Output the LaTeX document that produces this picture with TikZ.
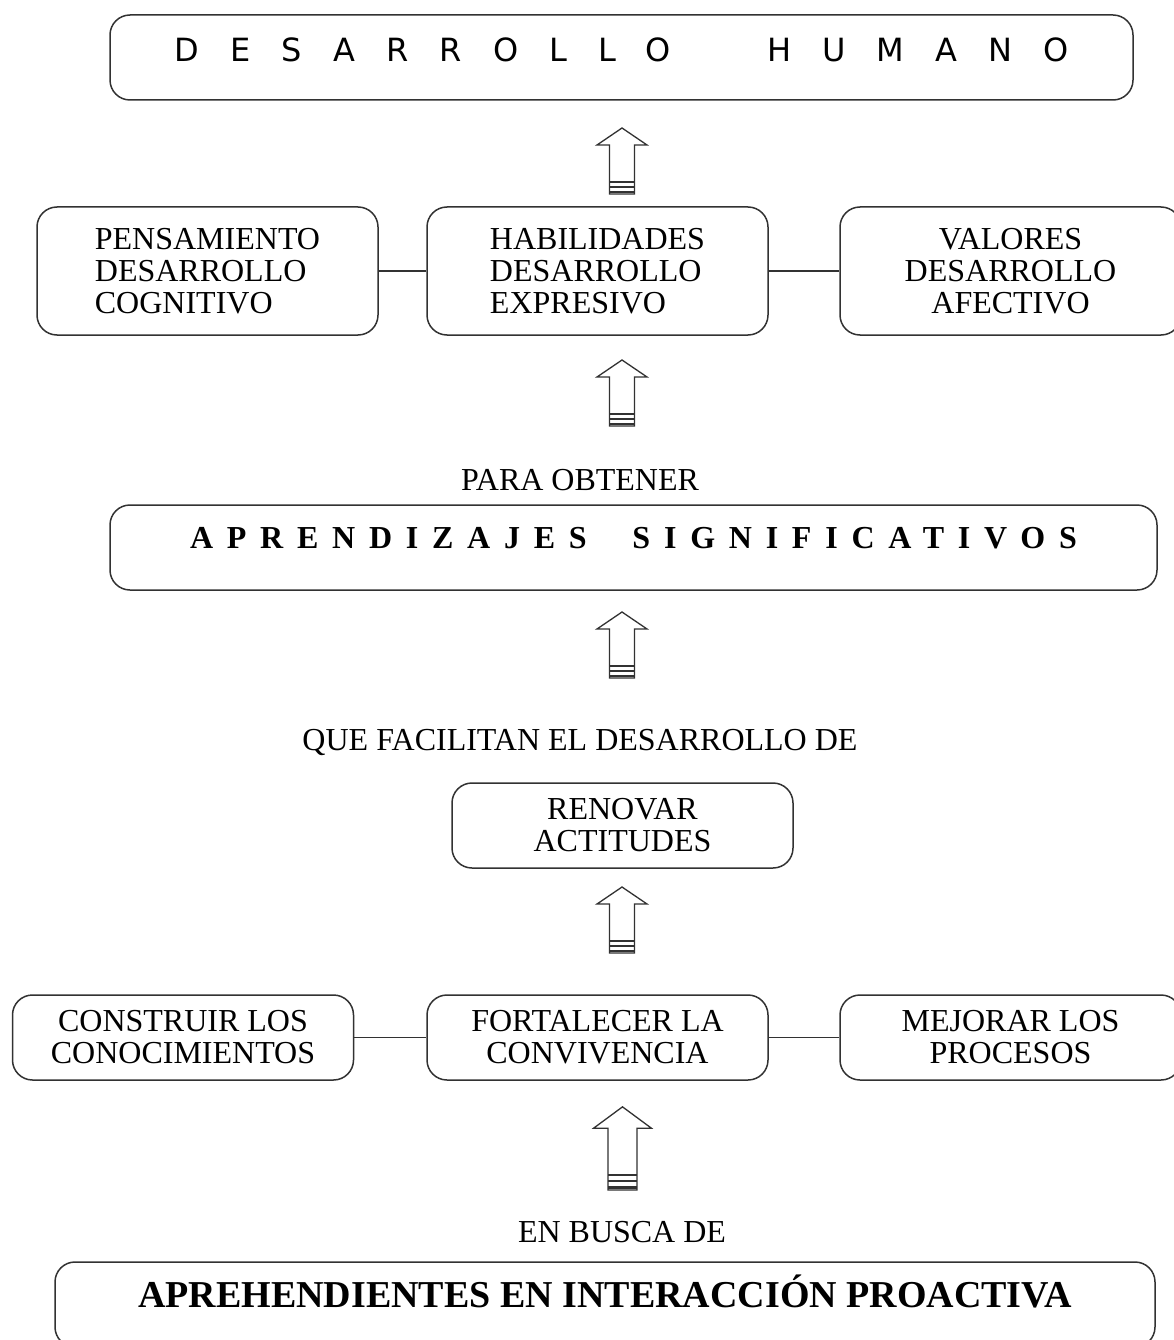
\documentclass[tikz,border=0pt]{standalone}
\usepackage{fontspec}
\setmainfont{Liberation Serif}
\newfontfamily\verdana{DejaVu Sans}
\usepackage{tikz}
\definecolor{linegray}{RGB}{50,50,50}

% hollow block arrow with stripes at its foot
\tikzset{
  uparrow/.pic={
    \draw[linegray, line width=1.3pt, fill=white] (-12.5,0) -- (-12.5,-49) -- (-25,-49)
      -- (0,-66) -- (25,-49) -- (12.5,-49) -- (12.5,0) -- cycle;
    \draw[linegray, line width=1.5pt] (-12.5,-12) -- (12.5,-12);
    \draw[linegray, line width=2.2pt] (-12.5,-7) -- (12.5,-7);
    \draw[linegray, line width=2.8pt] (-12.5,-2) -- (12.5,-2);
  }
}

\begin{document}
\begin{tikzpicture}[x=1pt, y=-1pt,
    box/.style={draw=linegray, line width=1.5pt, rounded corners=20pt,
      minimum width=341pt, minimum height=128pt, inner sep=0pt,
      font=\fontsize{32}{32}\selectfont},
    banner/.style={box, minimum height=85pt, text height=21pt, text depth=19pt},
    caption/.style={inner sep=0pt, font=\fontsize{32}{32}\selectfont},
    conn/.style={linegray, line width=1.5pt}]
      \fill[white] (0,0) rectangle (1173,1340);
      \useasboundingbox (0,0) rectangle (1173,1340);

      % top of the scheme
      \node[banner, minimum width=1023pt, text height=23pt, text depth=15pt,
            font=\verdana\fontsize{32}{32}\selectfont\addfontfeature{LetterSpace=97}]
            (humano) at (621.5,57.5) {DESARROLLO\hspace{96pt}HUMANO};
      \pic at (622,194) {uparrow};

      % three dimensions
      \node[box, align=left] (pensam) at (207.5,271)
            {PENSAMIENTO\\DESARROLLO\\COGNITIVO};
      \node[box, align=left] (habil) at (597.5,271)
            {HABILIDADES\\DESARROLLO\\EXPRESIVO};
      \node[box, align=center] (valores) at (1010.5,271)
            {VALORES\\DESARROLLO\\AFECTIVO};
      \draw[conn] (pensam) -- (habil);
      \draw[conn] (habil) -- (valores);
      \pic at (622,426) {uparrow};

      % learning
      \node[caption] (para) at (580,480) {PARA OBTENER};
      \node[banner, minimum width=1047pt,
            font=\bfseries\fontsize{32}{32}\selectfont\addfontfeature{LetterSpace=43}]
            (aprend) at (633.5,547.5) {APRENDIZAJES\hspace{24pt} SIGNIFICATIVOS};
      \pic at (622,678) {uparrow};

      \node[caption] (facilitan) at (580,742) {QUE FACILITAN EL DESARROLLO DE};
      \node[box, minimum height=85pt, align=center] (renovar) at (622.5,825.5)
            {RENOVAR\\ACTITUDES};
      \pic at (622,953) {uparrow};

      % three actions
      \node[box, minimum height=85pt, align=center] (construir) at (183,1037.5)
            {CONSTRUIR LOS\\CONOCIMIENTOS};
      \node[box, minimum height=85pt, align=center] (fortalecer) at (597.5,1037.5)
            {FORTALECER LA\\CONVIVENCIA};
      \node[box, minimum height=85pt, align=center] (mejorar) at (1010.5,1037.5)
            {MEJORAR LOS\\PROCESOS};
      \draw[conn] (construir) -- (fortalecer);
      \draw[conn] (fortalecer) -- (mejorar);
      \pic[xscale=1.16, yscale=1.26] at (622.5,1190) {uparrow};

      % bottom of the scheme
      \node[caption] (busca) at (622,1232) {EN BUSCA DE};
      \node[banner, minimum width=1100pt, text height=25pt,
            font=\bfseries\fontsize{38}{38}\selectfont]
            (aprehend) at (605,1304.5) {APREHENDIENTES EN INTERACCIÓN PROACTIVA};
    \end{tikzpicture}
\end{document}
